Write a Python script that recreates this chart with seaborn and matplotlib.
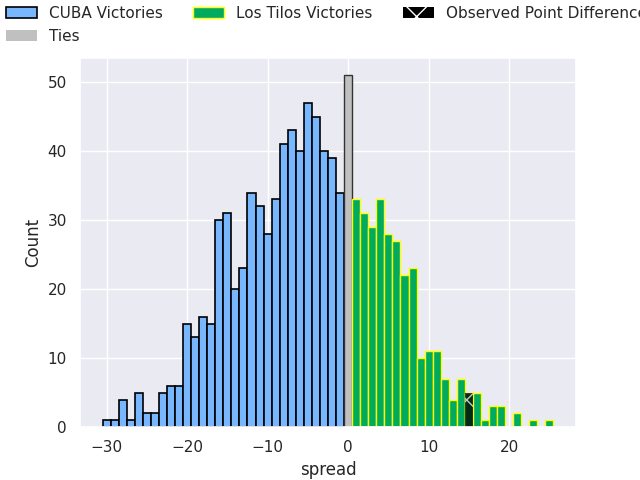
import matplotlib
matplotlib.use("Agg")
import matplotlib.pyplot as plt
from matplotlib.patches import Patch
import seaborn as sns
import numpy as np
import pandas as pd

cuba_spread = list(range(-30, 0))
cuba_counts = [1, 1, 4, 1, 5, 2, 2, 5, 6, 6,
               15, 13, 16, 15, 30, 31, 20, 23, 34, 32,
               28, 33, 41, 43, 40, 47, 45, 40, 39, 34]
tie_spread = [0]
tie_counts = [51]
tilos_spread = list(range(1, 26))
tilos_counts = [33, 31, 29, 33, 28, 27, 22, 23, 10, 11,
                11, 7, 4, 7, 5, 5, 1, 3, 3, 0,
                2, 0, 1, 0, 1]
observed_spread = [15]
observed_counts = [5]

sns.set_theme(style="darkgrid")
plt.rcParams['hatch.color'] = 'white'

fig, ax = plt.subplots(figsize=(6.4, 4.8), dpi=100)

cuba = pd.DataFrame({"spread": cuba_spread, "n": cuba_counts})
tie = pd.DataFrame({"spread": tie_spread, "n": tie_counts})
tilos = pd.DataFrame({"spread": tilos_spread, "n": tilos_counts})

sns.histplot(data=cuba, x="spread", weights="n", discrete=True, ax=ax,
             color="#78b6fd", edgecolor="black", linewidth=1.2, alpha=1,
             label="CUBA Victories")
sns.histplot(data=tie, x="spread", weights="n", discrete=True, ax=ax,
             color="#c0c0c0", edgecolor="#333333", linewidth=1.0, alpha=1,
             label="Ties")
sns.histplot(data=tilos, x="spread", weights="n", discrete=True, ax=ax,
             color="#00ab5f", edgecolor="yellow", linewidth=1.0, alpha=1,
             label="Los Tilos Victories")
ax.bar(observed_spread, observed_counts, width=1, color="black", alpha=0.75,
       hatch="x", edgecolor="white", linewidth=0)

ax.set_xlabel("spread")
ax.set_ylabel("Count")

handles, labels = ax.get_legend_handles_labels()
hmap = dict(zip(labels, handles))
hmap["Ties"] = Patch(facecolor="#c0c0c0", edgecolor="#c0c0c0", linewidth=0)
hmap["Observed Point Difference"] = Patch(facecolor="black", edgecolor="white",
                                          hatch="x", linewidth=0)
order = ["CUBA Victories", "Ties", "Los Tilos Victories", "Observed Point Difference"]
fig.legend([hmap[l] for l in order], order, loc="upper left", ncol=3,
           frameon=False, bbox_to_anchor=(0, 1), borderaxespad=0)

fig.savefig("out.png", dpi=100)
